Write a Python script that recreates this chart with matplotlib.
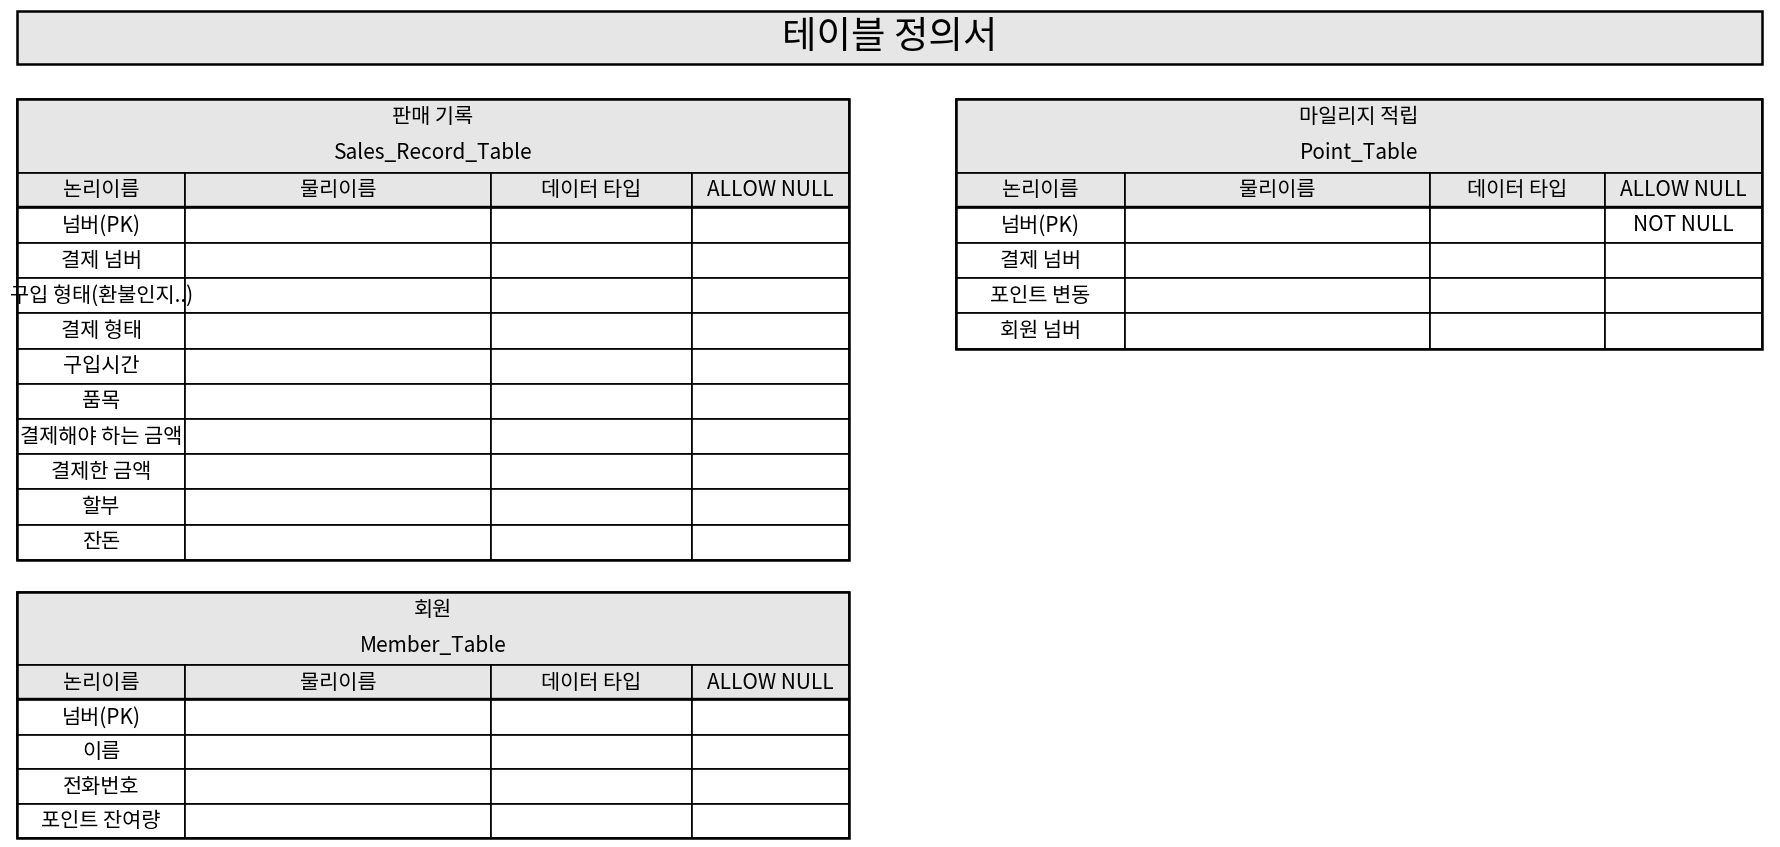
import matplotlib.pyplot as plt
from matplotlib.patches import Rectangle

plt.rcParams['font.family'] = ['Noto Sans CJK KR', 'DejaVu Sans']

title = '테이블 정의서'
columns = ['논리이름', '물리이름', '데이터 타입', 'ALLOW NULL']

sales_name = ('판매 기록', 'Sales_Record_Table')
sales_rows = ['넘버(PK)', '결제 넘버', '구입 형태(환불인지..)', '결제 형태', '구입시간',
              '품목', '결제해야 하는 금액', '결제한 금액', '할부', '잔돈']
sales_null = [''] * len(sales_rows)

point_name = ('마일리지 적립', 'Point_Table')
point_rows = ['넘버(PK)', '결제 넘버', '포인트 변동', '회원 넘버']
point_null = ['NOT NULL', '', '', '']

member_name = ('회원', 'Member_Table')
member_rows = ['넘버(PK)', '이름', '전화번호', '포인트 잔여량']
member_null = [''] * len(member_rows)

GREY = '#e7e6e6'
W, H = 1567, 746
FS = 15

fig = plt.figure(figsize=(17.8, 8.47), dpi=100)
ax = fig.add_axes([0, 0, 1, 1])
ax.set_xlim(0, W)
ax.set_ylim(H, 0)
ax.axis('off')


def box(x0, y0, x1, y1, fill='white', lw=1.2):
    ax.add_patch(Rectangle((x0, y0), x1 - x0, y1 - y0, facecolor=fill,
                           edgecolor='black', linewidth=lw))


def table(x_edges, top, name, rows, nulls, row_h=31):
    x0, x1 = x_edges[0], x_edges[-1]
    # title block
    box(x0, top, x1, top + 65, GREY)
    ax.text((x0 + x1) / 2, top + 16, name[0], ha='center', va='center', fontsize=FS)
    ax.text((x0 + x1) / 2, top + 48, name[1], ha='center', va='center', fontsize=FS)
    y = top + 65
    for i, c in enumerate(columns):
        box(x_edges[i], y, x_edges[i + 1], y + row_h, GREY)
        ax.text((x_edges[i] + x_edges[i + 1]) / 2, y + row_h / 2, c,
                ha='center', va='center', fontsize=FS)
    y += row_h
    ax.plot([x0, x1], [y - 2, y - 2], color='black', lw=1)
    for r, n in zip(rows, nulls):
        for i in range(len(columns)):
            box(x_edges[i], y, x_edges[i + 1], y + row_h)
        ax.text((x_edges[0] + x_edges[1]) / 2, y + row_h / 2, r,
                ha='center', va='center', fontsize=FS)
        ax.text((x_edges[3] + x_edges[4]) / 2, y + row_h / 2, n,
                ha='center', va='center', fontsize=FS)
        y += row_h
    ax.add_patch(Rectangle((x0, top), x1 - x0, y - top, fill=False,
                           edgecolor='black', linewidth=1.8))


box(15, 10, 1551, 56, GREY, lw=1.8)
ax.text(783, 33, title, ha='center', va='center', fontsize=27)

table([15, 163, 432, 609, 747], 87, sales_name, sales_rows, sales_null)
table([842, 990, 1259, 1413, 1551], 87, point_name, point_rows, point_null)
table([15, 163, 432, 609, 747], 521, member_name, member_rows, member_null, row_h=30.5)

fig.savefig('out.png', dpi=100)
